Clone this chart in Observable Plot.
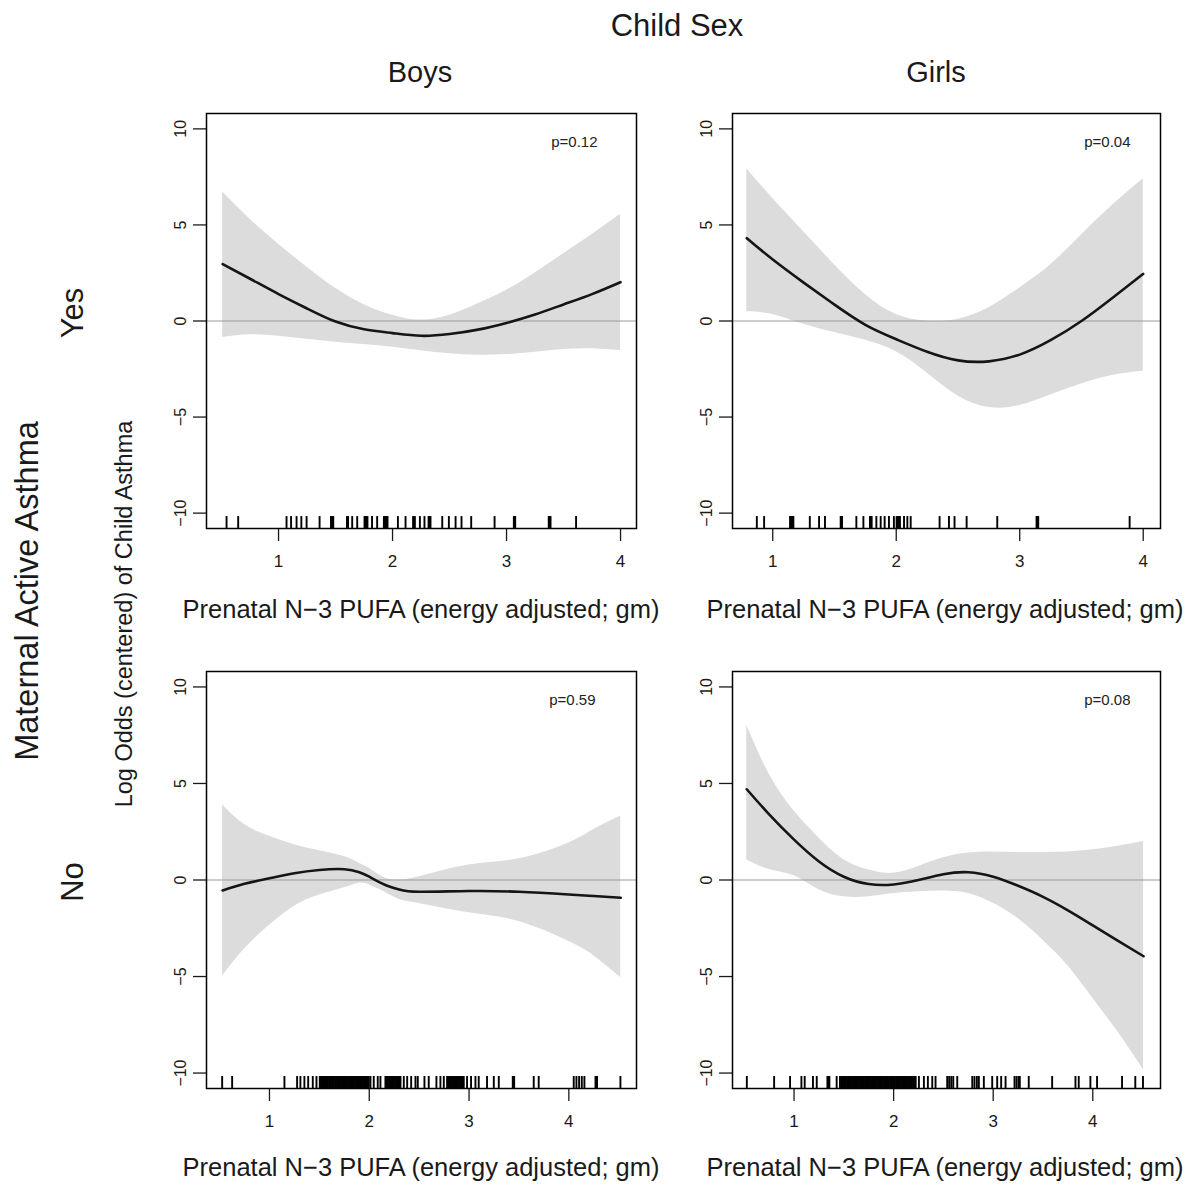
<!DOCTYPE html>
<html>
<head>
<meta charset="utf-8">
<script src="https://cdn.jsdelivr.net/npm/d3@7"></script>
<script src="https://cdn.jsdelivr.net/npm/@observablehq/plot@0.6"></script>
<style>
  html, body { margin: 0; padding: 0; background: #fff; }
  #wrap { position: relative; width: 1202px; height: 1186px; background: #fff; font-family: "Liberation Sans", Arial, Helvetica, sans-serif; color: #1a1a1a; overflow: hidden; }
  .lab { position: absolute; white-space: nowrap; transform: translate(-50%, -50%); line-height: 1; }
  .rot { transform: translate(-50%, -50%) rotate(-90deg); }
  .panel { position: absolute; }
</style>
</head>
<body>
<div id="wrap"></div>
<script>
// ---------- data ----------
const colTitle = "Child Sex";
const colLabels = ["Boys", "Girls"];
const rowTitle = "Maternal Active Asthma";
const rowLabels = ["Yes", "No"];
const yTitle = "Log Odds (centered) of Child Asthma";
const xTitle = "Prenatal N\u22123 PUFA (energy adjusted; gm)";
const pValues = ["p=0.12", "p=0.04", "p=0.59", "p=0.08"];
const xTicks = [1, 2, 3, 4];
const yTicks = [-10, -5, 0, 5, 10];

// Boys, maternal asthma = Yes
const xBoysYes     = [0.51, 0.75, 1, 1.25, 1.5, 1.75, 2, 2.25, 2.5, 2.75, 3, 3.25, 3.5, 3.75, 4.0];
const fitBoysYes   = [2.96, 2.2, 1.4, 0.65, -0.03, -0.43, -0.63, -0.77, -0.68, -0.45, -0.1, 0.34, 0.86, 1.4, 2.02];
const upperBoysYes = [6.71, 5.3, 4.0, 2.8, 1.7, 0.85, 0.3, 0.05, 0.3, 0.9, 1.6, 2.5, 3.5, 4.5, 5.56];
const lowerBoysYes = [-0.86, -0.72, -0.8, -0.95, -1.1, -1.22, -1.37, -1.55, -1.71, -1.78, -1.75, -1.62, -1.48, -1.45, -1.54];
const rugBoysYes = [0.544, 0.646, 1.07, 1.11, 1.158, 1.2, 1.246, 1.36, 1.46, 1.47, 1.48, 1.6, 1.61, 1.646, 1.69, 1.754, 1.762, 1.77, 1.78, 1.82, 1.865, 1.924, 1.932, 1.94, 1.948, 1.956, 2.047, 2.114, 2.18, 2.196, 2.24, 2.28, 2.316, 2.324, 2.333, 2.436, 2.494, 2.553, 2.605, 2.69, 2.895, 3.064, 3.07, 3.076, 3.37, 3.378, 3.386, 3.61];

// Girls, maternal asthma = Yes
const xGirlsYes     = [0.79, 1, 1.25, 1.5, 1.75, 2, 2.25, 2.5, 2.75, 3, 3.25, 3.5, 3.75, 4.0];
const fitGirlsYes   = [4.31, 3.2, 2.0, 0.85, -0.2, -0.95, -1.6, -2.05, -2.1, -1.75, -1.0, 0.0, 1.2, 2.45];
const upperGirlsYes = [7.93, 6.38, 4.65, 2.93, 1.38, 0.34, 0.0, 0.09, 0.69, 1.72, 2.93, 4.48, 6.03, 7.41];
const lowerGirlsYes = [0.48, 0.34, -0.17, -0.6, -1.0, -1.6, -2.7, -3.9, -4.5, -4.4, -3.85, -3.28, -2.84, -2.62];
const rugGirlsYes = [0.871, 0.93, 1.14, 1.147, 1.154, 1.16, 1.167, 1.3, 1.375, 1.423, 1.55, 1.556, 1.561, 1.677, 1.734, 1.787, 1.794, 1.801, 1.839, 1.874, 1.906, 1.941, 1.981, 2.003, 2.01, 2.017, 2.024, 2.03, 2.063, 2.09, 2.117, 2.351, 2.427, 2.472, 2.57, 2.818, 3.136, 3.143, 3.15, 3.89];

// Boys, maternal asthma = No
const xBoysNo     = [0.53, 0.75, 1, 1.25, 1.5, 1.75, 1.9, 2, 2.15, 2.3, 2.5, 3, 3.5, 4, 4.25, 4.52];
const fitBoysNo   = [-0.54, -0.2, 0.09, 0.35, 0.52, 0.56, 0.4, 0.17, -0.23, -0.49, -0.61, -0.57, -0.61, -0.75, -0.83, -0.92];
const upperBoysNo = [3.88, 2.87, 2.26, 1.83, 1.52, 1.22, 0.87, 0.61, 0.12, 0.0, 0.17, 0.78, 1.1, 1.92, 2.61, 3.31];
const lowerBoysNo = [-4.97, -3.57, -2.35, -1.36, -0.78, -0.4, -0.17, -0.26, -0.61, -1.01, -1.22, -1.7, -2.15, -3.18, -3.92, -5.05];
const rugBoysNo = [0.526, 0.626, 1.15, 1.277, 1.31, 1.35, 1.388, 1.434, 1.471,
  1.504, 1.516, 1.528, 1.539, 1.551, 1.563, 1.575, 1.586, 1.598, 1.61, 1.622, 1.633, 1.645, 1.657, 1.669, 1.68, 1.692, 1.704, 1.716, 1.727, 1.739, 1.751, 1.763, 1.774, 1.786, 1.798, 1.81, 1.821, 1.833, 1.845, 1.857, 1.868, 1.88, 1.892, 1.904, 1.915, 1.927, 1.939, 1.951, 1.962, 1.974, 1.986, 1.995,
  2.012, 2.045, 2.085, 2.112,
  2.162, 2.174, 2.186, 2.198, 2.21, 2.222, 2.234, 2.246, 2.258, 2.27, 2.282, 2.294, 2.306, 2.313,
  2.346, 2.38, 2.42, 2.463, 2.486, 2.553, 2.596, 2.673, 2.713, 2.747,
  2.78, 2.792, 2.804, 2.816, 2.828, 2.84, 2.852, 2.864, 2.876, 2.888, 2.9, 2.912, 2.924, 2.93,
  2.947, 2.98, 3.02, 3.064, 3.097, 3.18, 3.248, 3.298, 3.438, 3.445, 3.452, 3.648, 3.698, 4.049, 4.076, 4.103, 4.13, 4.156, 4.267, 4.275, 4.283, 4.517];

// Girls, maternal asthma = No
const xGirlsNo     = [0.525, 0.75, 1, 1.25, 1.5, 1.75, 2, 2.25, 2.5, 2.75, 3, 3.25, 3.5, 3.75, 4, 4.25, 4.51];
const fitGirlsNo   = [4.7, 3.4, 2.09, 0.96, 0.17, -0.21, -0.23, 0.0, 0.3, 0.4, 0.17, -0.3, -0.87, -1.57, -2.35, -3.14, -3.95];
const upperGirlsNo = [8.01, 5.49, 3.57, 2.18, 1.05, 0.52, 0.35, 0.7, 1.15, 1.4, 1.45, 1.43, 1.43, 1.45, 1.57, 1.75, 2.0];
const lowerGirlsNo = [1.05, 0.55, 0.22, -0.5, -0.87, -0.87, -0.7, -0.61, -0.57, -0.7, -1.2, -2.0, -3.12, -4.44, -6.12, -7.85, -9.84];
const rugGirlsNo = [0.526, 0.8, 0.96, 1.074, 1.107, 1.19, 1.228, 1.335, 1.345, 1.355, 1.428,
  1.461, 1.473, 1.485, 1.497, 1.509, 1.521, 1.533, 1.545, 1.557, 1.569, 1.581, 1.593, 1.605, 1.617, 1.629, 1.641, 1.653, 1.665, 1.677, 1.689, 1.701, 1.713, 1.725, 1.737, 1.749, 1.761, 1.773, 1.785, 1.797, 1.809, 1.821, 1.833, 1.845, 1.857, 1.869, 1.881, 1.893, 1.905, 1.917, 1.929, 1.941, 1.953, 1.965, 1.977, 1.989, 2.001, 2.013, 2.025, 2.037, 2.049, 2.061, 2.073, 2.085, 2.097, 2.109, 2.121, 2.133, 2.145, 2.157, 2.169, 2.181, 2.193, 2.205, 2.217, 2.221,
  2.254, 2.304, 2.344, 2.388, 2.421, 2.538, 2.558, 2.579, 2.599, 2.639, 2.79, 2.812, 2.836, 2.856, 2.906, 2.99, 3.04, 3.08, 3.124, 3.214, 3.234, 3.254, 3.267, 3.357, 3.592, 3.826, 3.859, 3.976, 4.043, 4.294, 4.427, 4.504];

// ---------- layout ----------
const wrap = document.getElementById("wrap");
const FONT = "'Liberation Sans', Arial, Helvetica, sans-serif";
const yDomain = [-10.8, 10.8];
const M = {l: 50, r: 10, t: 10, b: 50};
const fmt = d => (d < 0 ? "\u2212" + Math.abs(d) : String(d));

function addLabel(text, x, y, size, rotate) {
  const d = document.createElement("div");
  d.className = "lab" + (rotate ? " rot" : "");
  d.textContent = text;
  d.style.left = x + "px";
  d.style.top = y + "px";
  d.style.fontSize = size + "px";
  wrap.appendChild(d);
}

function panel({xs, fit, lo, hi, rug, xDomain, p, pdx, frame}) {
  const data = xs.map((x, i) => ({x, fit: fit[i], lo: lo[i], hi: hi[i]}));
  const fw = frame.x1 - frame.x0, fh = frame.y1 - frame.y0;
  const chart = Plot.plot({
    width: fw + M.l + M.r,
    height: fh + M.t + M.b,
    marginLeft: M.l, marginRight: M.r, marginTop: M.t, marginBottom: M.b,
    x: {domain: xDomain},
    y: {domain: yDomain},
    style: {fontFamily: FONT, fontSize: "16px", color: "#1a1a1a", background: "transparent", overflow: "visible"},
    marks: [
      Plot.areaY(data, {x: "x", y1: "lo", y2: "hi", fill: "#dcdcdc", curve: "natural"}),
      Plot.ruleY([0], {stroke: "#9a9a9a", strokeWidth: 1}),
      Plot.lineY(data, {x: "x", y: "fit", stroke: "#151515", strokeWidth: 2.6, curve: "natural"}),
      Plot.ruleX(rug, {x: d => d, y1: yDomain[0], y2: -10.18, stroke: "#000", strokeWidth: 1.9}),
      Plot.axisX({ticks: xTicks, tickFormat: fmt, tickSize: 13, tickPadding: 13, label: null, strokeWidth: 1.3, fontSize: 17}),
      Plot.axisY({ticks: yTicks, tickFormat: fmt, tickSize: 13, tickPadding: 8, tickRotate: -90, label: null, strokeWidth: 1.3, fontSize: 16}),
      Plot.frame({stroke: "#000", strokeWidth: 1.5}),
      Plot.text([p], {text: d => d, frameAnchor: "top-right", dx: pdx, dy: 29, textAnchor: "end", lineAnchor: "middle", fontSize: 15, fill: "#222"})
    ]
  });
  chart.classList.add("panel");
  chart.style.left = (frame.x0 - M.l) + "px";
  chart.style.top = (frame.y0 - M.t) + "px";
  wrap.appendChild(chart);
}

panel({xs: xBoysYes, fit: fitBoysYes, lo: lowerBoysYes, hi: upperBoysYes, rug: rugBoysYes,
  xDomain: [0.368, 4.14], p: pValues[0], pdx: -39, frame: {x0: 206, x1: 636, y0: 113, y1: 528}});
panel({xs: xGirlsYes, fit: fitGirlsYes, lo: lowerGirlsYes, hi: upperGirlsYes, rug: rugGirlsYes,
  xDomain: [0.674, 4.14], p: pValues[1], pdx: -30, frame: {x0: 732, x1: 1160, y0: 113, y1: 528}});
panel({xs: xBoysNo, fit: fitBoysNo, lo: lowerBoysNo, hi: upperBoysNo, rug: rugBoysNo,
  xDomain: [0.369, 4.678], p: pValues[2], pdx: -41, frame: {x0: 206, x1: 636, y0: 671, y1: 1088}});
panel({xs: xGirlsNo, fit: fitGirlsNo, lo: lowerGirlsNo, hi: upperGirlsNo, rug: rugGirlsNo,
  xDomain: [0.382, 4.68], p: pValues[3], pdx: -30, frame: {x0: 732, x1: 1160, y0: 671, y1: 1088}});

// outer labels
addLabel(colTitle, 677, 25, 31);
addLabel(colLabels[0], 420, 72, 29);
addLabel(colLabels[1], 936, 72, 29);
addLabel(rowTitle, 27, 591, 32.5, true);
addLabel(rowLabels[0], 72, 313, 31, true);
addLabel(rowLabels[1], 72, 882, 31, true);
addLabel(yTitle, 125, 614, 23.5, true);
addLabel(xTitle, 421, 610, 25.5);
addLabel(xTitle, 945, 610, 25.5);
addLabel(xTitle, 421, 1168, 25.5);
addLabel(xTitle, 945, 1168, 25.5);
</script>
</body>
</html>
